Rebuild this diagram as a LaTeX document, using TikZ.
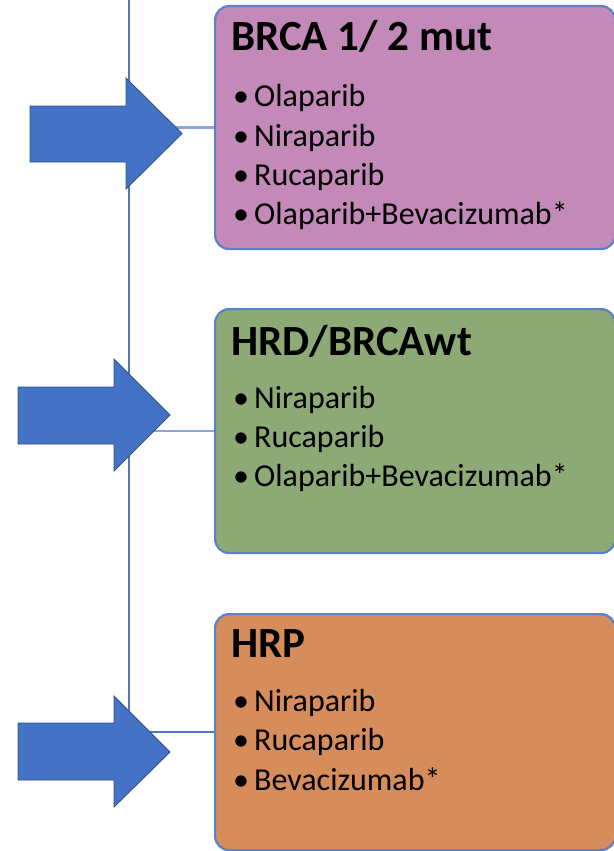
\documentclass[tikz,border=0pt]{standalone}
\usepackage{fontspec}
\setmainfont{Carlito}
\definecolor{pinkc}{RGB}{195,137,184}
\definecolor{greenc}{RGB}{141,170,118}
\definecolor{orangec}{RGB}{214,140,91}
\definecolor{boxline}{RGB}{91,130,198}
\definecolor{arrowfill}{RGB}{68,114,196}
\definecolor{arrowline}{RGB}{47,82,143}
\definecolor{spinec}{RGB}{85,120,188}
\definecolor{connc}{RGB}{138,165,214}
\begin{document}
\begin{tikzpicture}[x=1pt,y=-1pt,
  box/.style={draw=boxline, line width=2.2pt, rounded corners=14pt, anchor=north west, inner sep=0pt, minimum width=400pt},
  title/.style={anchor=base west, inner sep=0pt, font=\fontsize{43}{48}\selectfont\bfseries},
  item/.style={anchor=base west, inner sep=0pt, font=\fontsize{32}{38}\selectfont},
  spine/.style={draw=spinec, line width=2.6pt},
  conn/.style={draw=connc, line width=2.6pt},
  bigarrow/.style={fill=arrowfill, draw=arrowline, line width=0.9pt, line join=miter}]
\useasboundingbox (0,0) rectangle (613,851);
% boxes
\node[box, fill=pinkc, minimum height=243pt] (b1) at (214,5) {};
\node[box, fill=greenc, minimum height=244pt] (b2) at (214,308) {};
\node[box, fill=orangec, minimum height=236pt] (b3) at (214,613) {};
% connectors
\coordinate (top) at (129,-2);
\draw[spine] (top) |- (b3.west);
\draw[conn] (b1.west -| top) -- (b1.west);
\draw[conn] (b2.west -| top) -- (b2.west);
% arrows
\draw[bigarrow] (30,106) -- (126,106) -- (126,78) -- (182,133.5) -- (126,189) -- (126,162) -- (30,162) -- cycle;
\draw[bigarrow] (18,387) -- (114,387) -- (114,359) -- (170,415) -- (114,471) -- (114,444) -- (18,444) -- cycle;
\draw[bigarrow] (18,723) -- (114,723) -- (114,696) -- (170,752) -- (114,807) -- (114,780) -- (18,780) -- cycle;
% texts box 1
\node[title] (t1) at (231,51) {BRCA 1/ 2 mut};
\node[item] (i11) at (233,106) {\makebox[21pt][l]{•}Olaparib};
\node[item] (i12) at (233,146) {\makebox[21pt][l]{•}Niraparib};
\node[item] (i13) at (233,185) {\makebox[21pt][l]{•}Rucaparib};
\node[item] (i14) at (233,224) {\makebox[21pt][l]{•}Olaparib+Bevacizumab*};
% texts box 2
\node[title] (t2) at (231,355) {HRD/BRCAwt};
\node[item] (i21) at (233,408) {\makebox[21pt][l]{•}Niraparib};
\node[item] (i22) at (233,447) {\makebox[21pt][l]{•}Rucaparib};
\node[item] (i23) at (233,486) {\makebox[21pt][l]{•}Olaparib+Bevacizumab*};
% texts box 3
\node[title] (t3) at (231,657) {HRP};
\node[item] (i31) at (233,711) {\makebox[21pt][l]{•}Niraparib};
\node[item] (i32) at (233,750) {\makebox[21pt][l]{•}Rucaparib};
\node[item] (i33) at (233,790) {\makebox[21pt][l]{•}Bevacizumab*};
\end{tikzpicture}
\end{document}
